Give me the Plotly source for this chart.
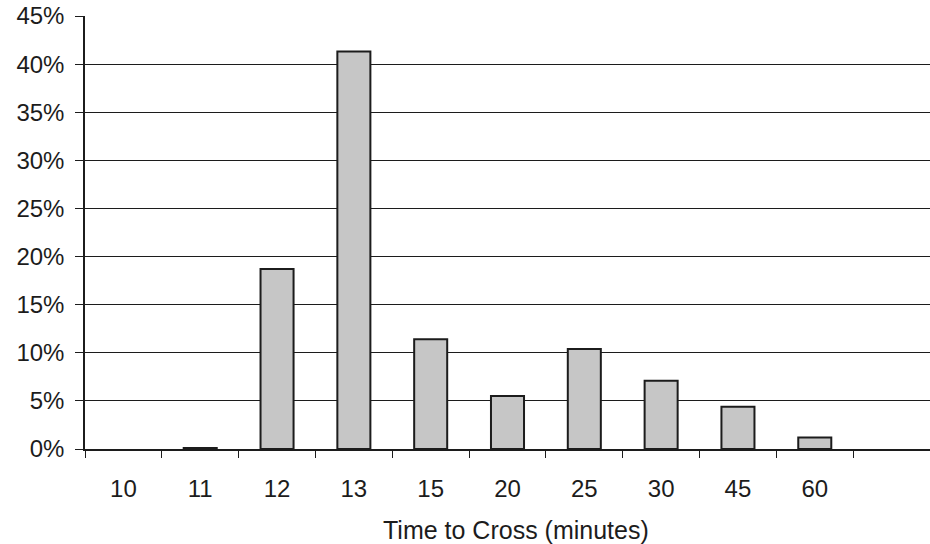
import plotly.graph_objects as go

categories = ["10", "11", "12", "13", "15", "20", "25", "30", "45", "60"]
percent_values = [0.0, 0.1, 18.7, 41.3, 11.4, 5.5, 10.4, 7.1, 4.4, 1.2]
y_tick_values = [0, 5, 10, 15, 20, 25, 30, 35, 40, 45]
y_tick_labels = [f"{v}%" for v in y_tick_values]
x_title = "Time to Cross (minutes)"

ink = "#1c1c1c"
font_family = "Liberation Sans, Arial, sans-serif"

outline_widths = [2 if v > 0 else 0 for v in percent_values]

fig = go.Figure()
fig.add_trace(go.Bar(
    x=categories,
    y=percent_values,
    marker=dict(color="#c6c6c6", line=dict(color=ink, width=outline_widths)),
    showlegend=False,
))

fig.update_layout(
    width=930, height=544,
    margin=dict(l=85, r=0, t=16, b=95),
    paper_bgcolor="white", plot_bgcolor="white",
    bargap=0.57,
    font=dict(family=font_family, color=ink, size=24),
)
fig.update_xaxes(
    type="category",
    categoryorder="array", categoryarray=categories,
    range=[-0.5, 10.5],
    showline=True, linecolor=ink, linewidth=1.5,
    ticks="outside", tickson="boundaries", ticklen=7, tickcolor=ink, tickwidth=1.2,
    ticklabelstandoff=17,
    tickfont=dict(size=24),
    showgrid=False, zeroline=False,
)
fig.update_yaxes(
    range=[0, 45],
    tickvals=y_tick_values, ticktext=y_tick_labels,
    showline=True, linecolor=ink, linewidth=1.5,
    ticks="outside", ticklen=8, tickcolor=ink, tickwidth=1.2,
    ticklabelstandoff=6,
    tickfont=dict(size=24),
    showgrid=True, gridcolor=ink, gridwidth=1.3,
    zeroline=False,
)
fig.add_annotation(
    text=x_title, xref="paper", yref="paper",
    x=0.51, y=0, yshift=-81, xanchor="center", yanchor="middle",
    showarrow=False, font=dict(size=25, family=font_family, color=ink),
)

fig.write_html("out.html")
